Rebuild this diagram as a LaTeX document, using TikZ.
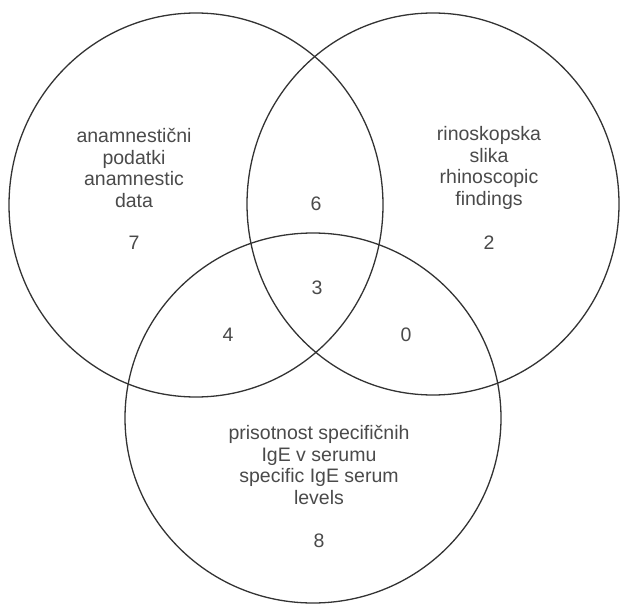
\documentclass[tikz,border=0pt]{standalone}
\usepackage{fontspec}
\setmainfont{Liberation Sans}
\definecolor{ink}{HTML}{333333}
\definecolor{txt}{HTML}{4A4A4A}
\begin{document}
\begin{tikzpicture}[x=1pt,y=-1pt,
  venn/.style={draw=ink,line width=1.3pt},
  lbl/.style={text=txt,align=center,inner sep=0pt,font=\fontsize{19.5}{21.5}\selectfont},
  num/.style={text=txt,inner sep=0pt,font=\fontsize{19.5}{21.5}\selectfont}]
\useasboundingbox (0,0) rectangle (620,604);
\draw[venn] (196,205) ellipse [x radius=187,y radius=192];
\draw[venn] (433,204) ellipse [x radius=186,y radius=191];
\draw[venn] (313,418) ellipse [x radius=188,y radius=185];
\node[lbl] (la) at (134,168) {anamnestični\\podatki\\anamnestic\\data};
\node[lbl] (ra) at (489,168) {rinoskopska\\slika\\rhinoscopic\\findings};
\node[lbl] (ba) at (319,465) {prisotnost specifičnih\\IgE v serumu\\specific IgE serum\\levels};
\node[num] (n7) at (134,243) {7};
\node[num] (n2) at (489,243) {2};
\node[num] (n6) at (316,204) {6};
\node[num] (n3) at (317,288) {3};
\node[num] (n4) at (228,335) {4};
\node[num] (n0) at (406,335) {0};
\node[num] (n8) at (319,541) {8};
\end{tikzpicture}
\end{document}
